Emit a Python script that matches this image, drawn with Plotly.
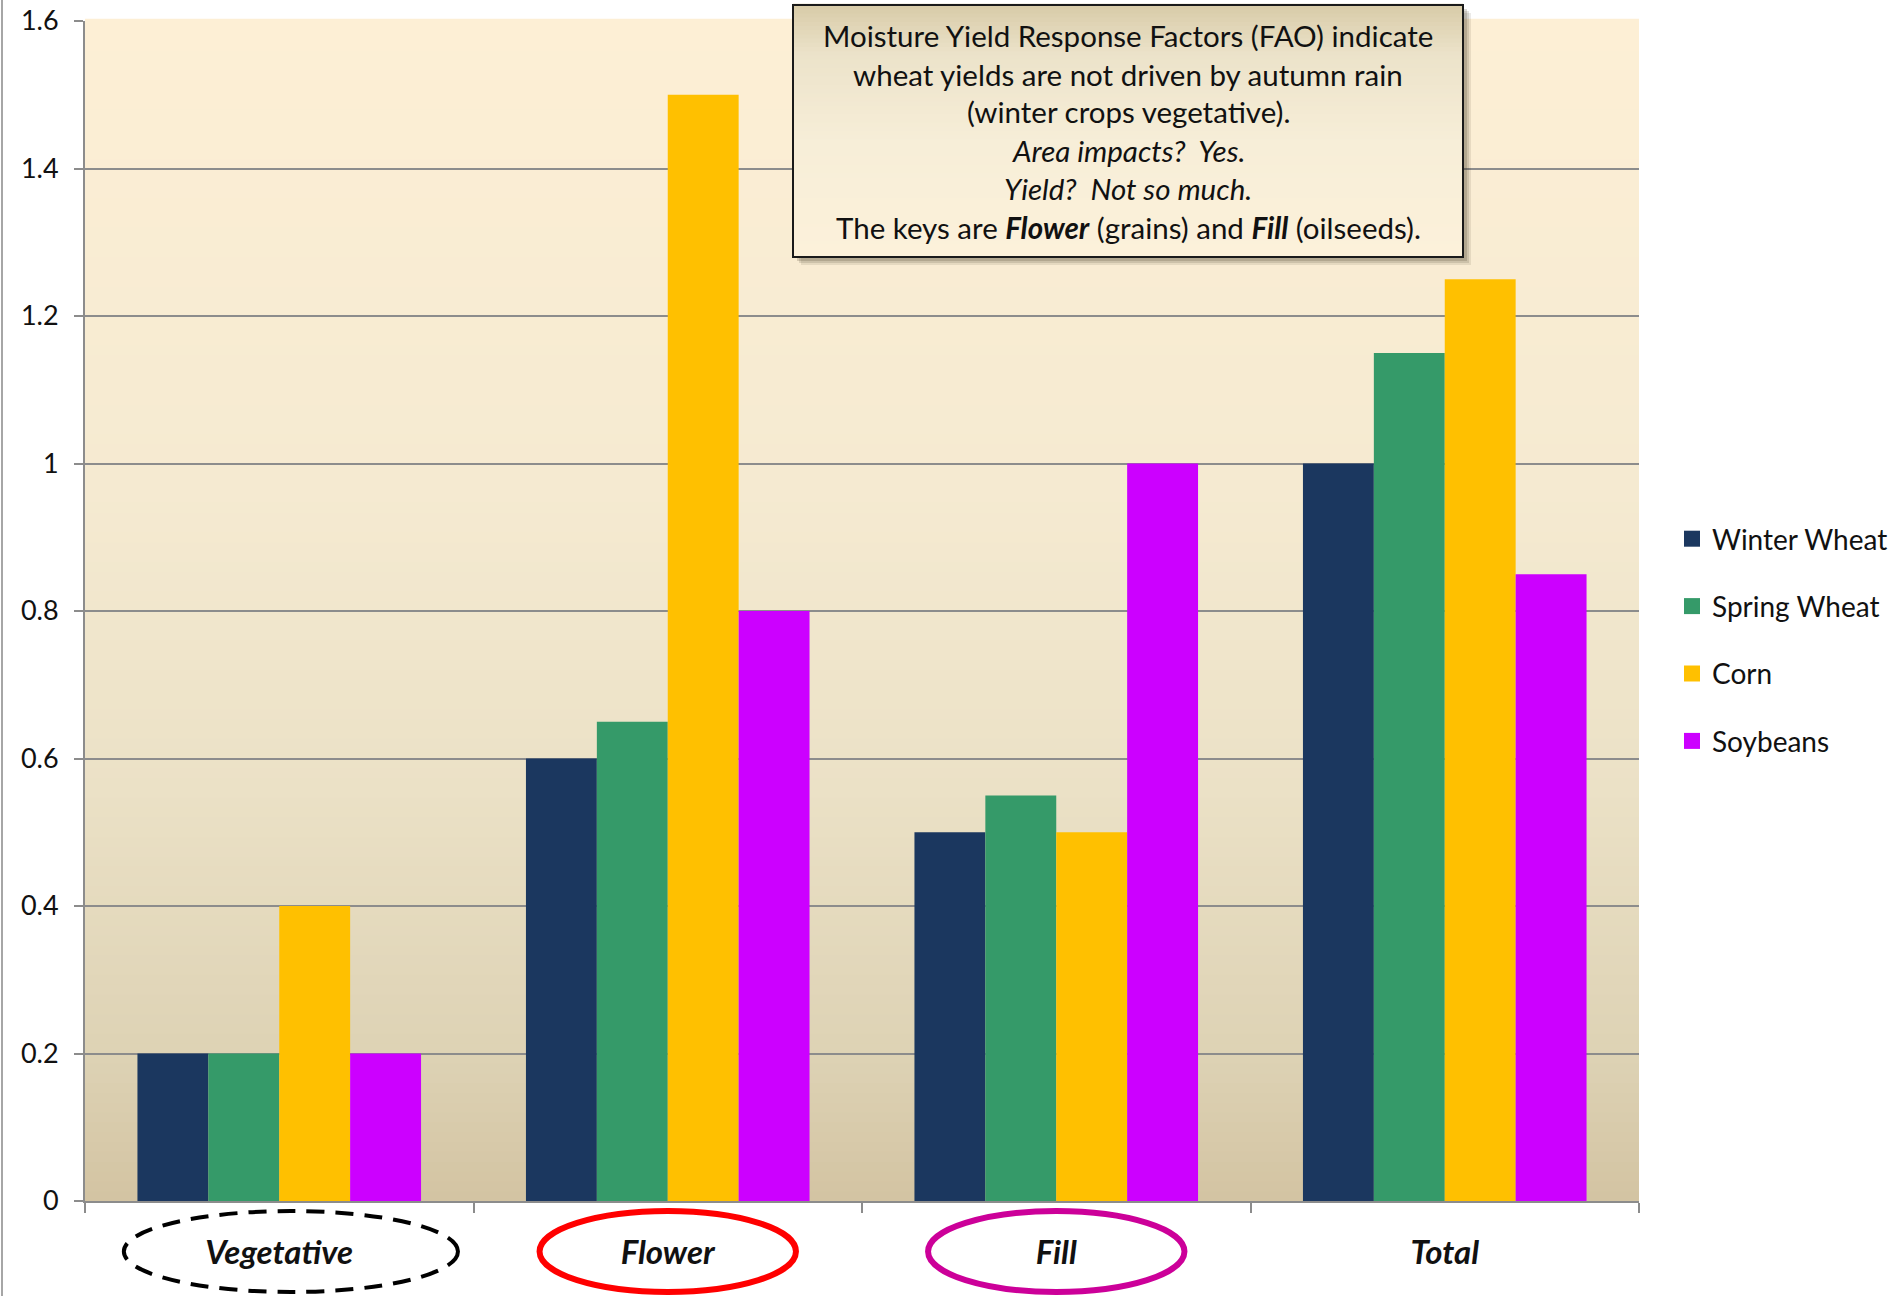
import plotly.graph_objects as go

# ---- data -------------------------------------------------------------
stages = ["Vegetative", "Flower", "Fill", "Total"]
crops = ["Winter Wheat", "Spring Wheat", "Corn", "Soybeans"]
winter_wheat = [0.2, 0.6, 0.5, 1.0]
spring_wheat = [0.2, 0.65, 0.55, 1.15]
corn = [0.4, 1.5, 0.5, 1.25]
soybeans = [0.2, 0.8, 1.0, 0.85]
y_ticks = [0, 0.2, 0.4, 0.6, 0.8, 1, 1.2, 1.4, 1.6]
y_tick_text = ["0", "0.2", "0.4", "0.6", "0.8", "1", "1.2", "1.4", "1.6"]

note_lines = [
    "Moisture Yield Response Factors (FAO) indicate",
    "wheat yields are not driven by autumn rain",
    "(winter crops vegetative).",
    "<i>Area impacts?  Yes.</i>",
    "<i>Yield?  Not so much.</i>",
    "The keys are <b><i>Flower</i></b> (grains) and <b><i>Fill</i></b> (oilseeds).",
]

series = [winter_wheat, spring_wheat, corn, soybeans]
colors = ["#1B375F", "#359A69", "#FFC000", "#CC00FF"]

# ---- page geometry (pixels) -------------------------------------------
W, H = 1901, 1296
L, R, T, B = 85, 1639, 21, 1201


def px_x(p):
    return (p - L) / (R - L)


def px_y(p):
    return (B - p) / (B - T)


def lerp_color(stops, f):
    for (f0, c0), (f1, c1) in zip(stops, stops[1:]):
        if f0 <= f <= f1:
            t = (f - f0) / (f1 - f0) if f1 > f0 else 0
            rgb = [round(a + (b - a) * t) for a, b in zip(c0, c1)]
            return "rgb(%d,%d,%d)" % tuple(rgb)
    c = stops[-1][1]
    return "rgb(%d,%d,%d)" % c


fig = go.Figure()

for name, vals, col in zip(crops, series, colors):
    fig.add_trace(go.Bar(
        x=stages, y=vals, name=name, marker=dict(color=col, line=dict(width=0)),
        legendgroup=name, showlegend=False,
    ))
    # legend swatch
    fig.add_trace(go.Scatter(
        x=[None], y=[None], mode="markers", name=name, legendgroup=name,
        marker=dict(symbol="square", size=17, color=col),
    ))

shapes = []

# plot-area background: vertical gradient, tan at the bottom, cream at the top
bg_stops = [
    (0.0, (211, 196, 162)),
    (0.12, (221, 210, 180)),
    (0.35, (235, 225, 198)),
    (0.6, (245, 234, 209)),
    (1.0, (253, 239, 213)),
]
N = 120
for i in range(N):
    f0, f1 = i / N, (i + 1) / N
    shapes.append(dict(
        type="rect", xref="paper", yref="paper", x0=0, x1=1, y0=f0, y1=f1 + 0.002,
        fillcolor=lerp_color(bg_stops, (f0 + f1) / 2), line=dict(width=0), layer="below",
    ))

# thin grey frame line at the very left of the page
shapes.append(dict(
    type="line", xref="paper", yref="paper", x0=px_x(2), x1=px_x(2), y0=px_y(0), y1=px_y(H),
    line=dict(color="#A6A6A6", width=2), layer="above",
))

# note box: shadow, gradient fill, border
bx0, bx1, by0, by1 = 793, 1463, 5, 257
for k, op in [(8, 0.10), (6, 0.14), (4, 0.18)]:
    shapes.append(dict(
        type="rect", xref="paper", yref="paper",
        x0=px_x(bx0 + k), x1=px_x(bx1 + k), y0=px_y(by0 + k), y1=px_y(by1 + k),
        fillcolor="rgba(60,50,30,%.2f)" % op, line=dict(width=0), layer="above",
    ))
box_stops = [
    (0.0, (252, 241, 218)),
    (0.45, (247, 238, 216)),
    (0.8, (236, 227, 202)),
    (1.0, (216, 203, 168)),
]
NB = 60
for i in range(NB):
    f0, f1 = i / NB, (i + 1) / NB
    ya = by1 - (by1 - by0) * f0
    yb = by1 - (by1 - by0) * f1
    shapes.append(dict(
        type="rect", xref="paper", yref="paper", x0=px_x(bx0), x1=px_x(bx1),
        y0=px_y(ya), y1=px_y(yb) + 0.001,
        fillcolor=lerp_color(box_stops, (f0 + f1) / 2), line=dict(width=0), layer="above",
    ))
shapes.append(dict(
    type="rect", xref="paper", yref="paper", x0=px_x(bx0), x1=px_x(bx1),
    y0=px_y(by1), y1=px_y(by0), line=dict(color="#1A1A1A", width=2), layer="above",
))

# ellipses around the stage labels
ell = [
    (0, 0.43, dict(color="black", width=4, dash="18px,11px")),
    (1, 0.33, dict(color="#FF0000", width=6)),
    (2, 0.33, dict(color="#CC0099", width=6)),
]
for idx, half, ln in ell:
    cx = idx + (0.03 if idx == 0 else 0.0)
    shapes.append(dict(
        type="circle", xref="x", yref="paper", x0=cx - half, x1=cx + half,
        y0=px_y(1292), y1=px_y(1211), line=ln, layer="above",
    ))

annotations = []
line_centers = [35, 74, 112, 150, 188, 227]
for txt, yc in zip(note_lines, line_centers):
    annotations.append(dict(
        text=txt, xref="paper", yref="paper", x=px_x((bx0 + bx1) / 2), y=px_y(yc),
        xanchor="center", yanchor="middle", showarrow=False,
        font=dict(family="Lato, Open Sans, sans-serif", size=29.5, color="#111111"),
    ))

fig.update_layout(
    width=W, height=H,
    margin=dict(l=L, r=W - R, t=T, b=H - B, pad=0, autoexpand=False),
    paper_bgcolor="white", plot_bgcolor="rgba(0,0,0,0)",
    barmode="group", bargap=0.27, bargroupgap=0,
    shapes=shapes, annotations=annotations,
    font=dict(family="Lato, Open Sans, sans-serif", color="#111111"),
    legend=dict(
        x=px_x(1672), xanchor="left", y=px_y(640), yanchor="middle",
        font=dict(size=28, family="Lato, Open Sans, sans-serif", color="#111111"),
        tracegroupgap=28, bgcolor="rgba(0,0,0,0)", itemclick=False,
    ),
    showlegend=True,
)

fig.update_xaxes(
    type="category", categoryorder="array", categoryarray=stages,
    showgrid=False, showline=True, linecolor="#8C8C8C", linewidth=2,
    ticks="outside", tickson="boundaries", ticklen=10, tickcolor="#8C8C8C", tickwidth=2,
    ticklabelstandoff=21,
    tickfont=dict(family="Lato, Open Sans, sans-serif", size=33, color="#111111", weight="bold", style="italic"),
)
fig.update_yaxes(
    range=[0, 1.6], tickmode="array", tickvals=y_ticks, ticktext=y_tick_text,
    showgrid=True, gridcolor="#8C8C8C", gridwidth=2,
    showline=True, linecolor="#8C8C8C", linewidth=2, zeroline=False,
    ticks="outside", ticklen=9, tickcolor="#8C8C8C", tickwidth=2,
    ticklabelstandoff=10,
    tickfont=dict(family="Lato, Open Sans, sans-serif", size=27, color="#111111"),
)

fig.write_html("out.html")
